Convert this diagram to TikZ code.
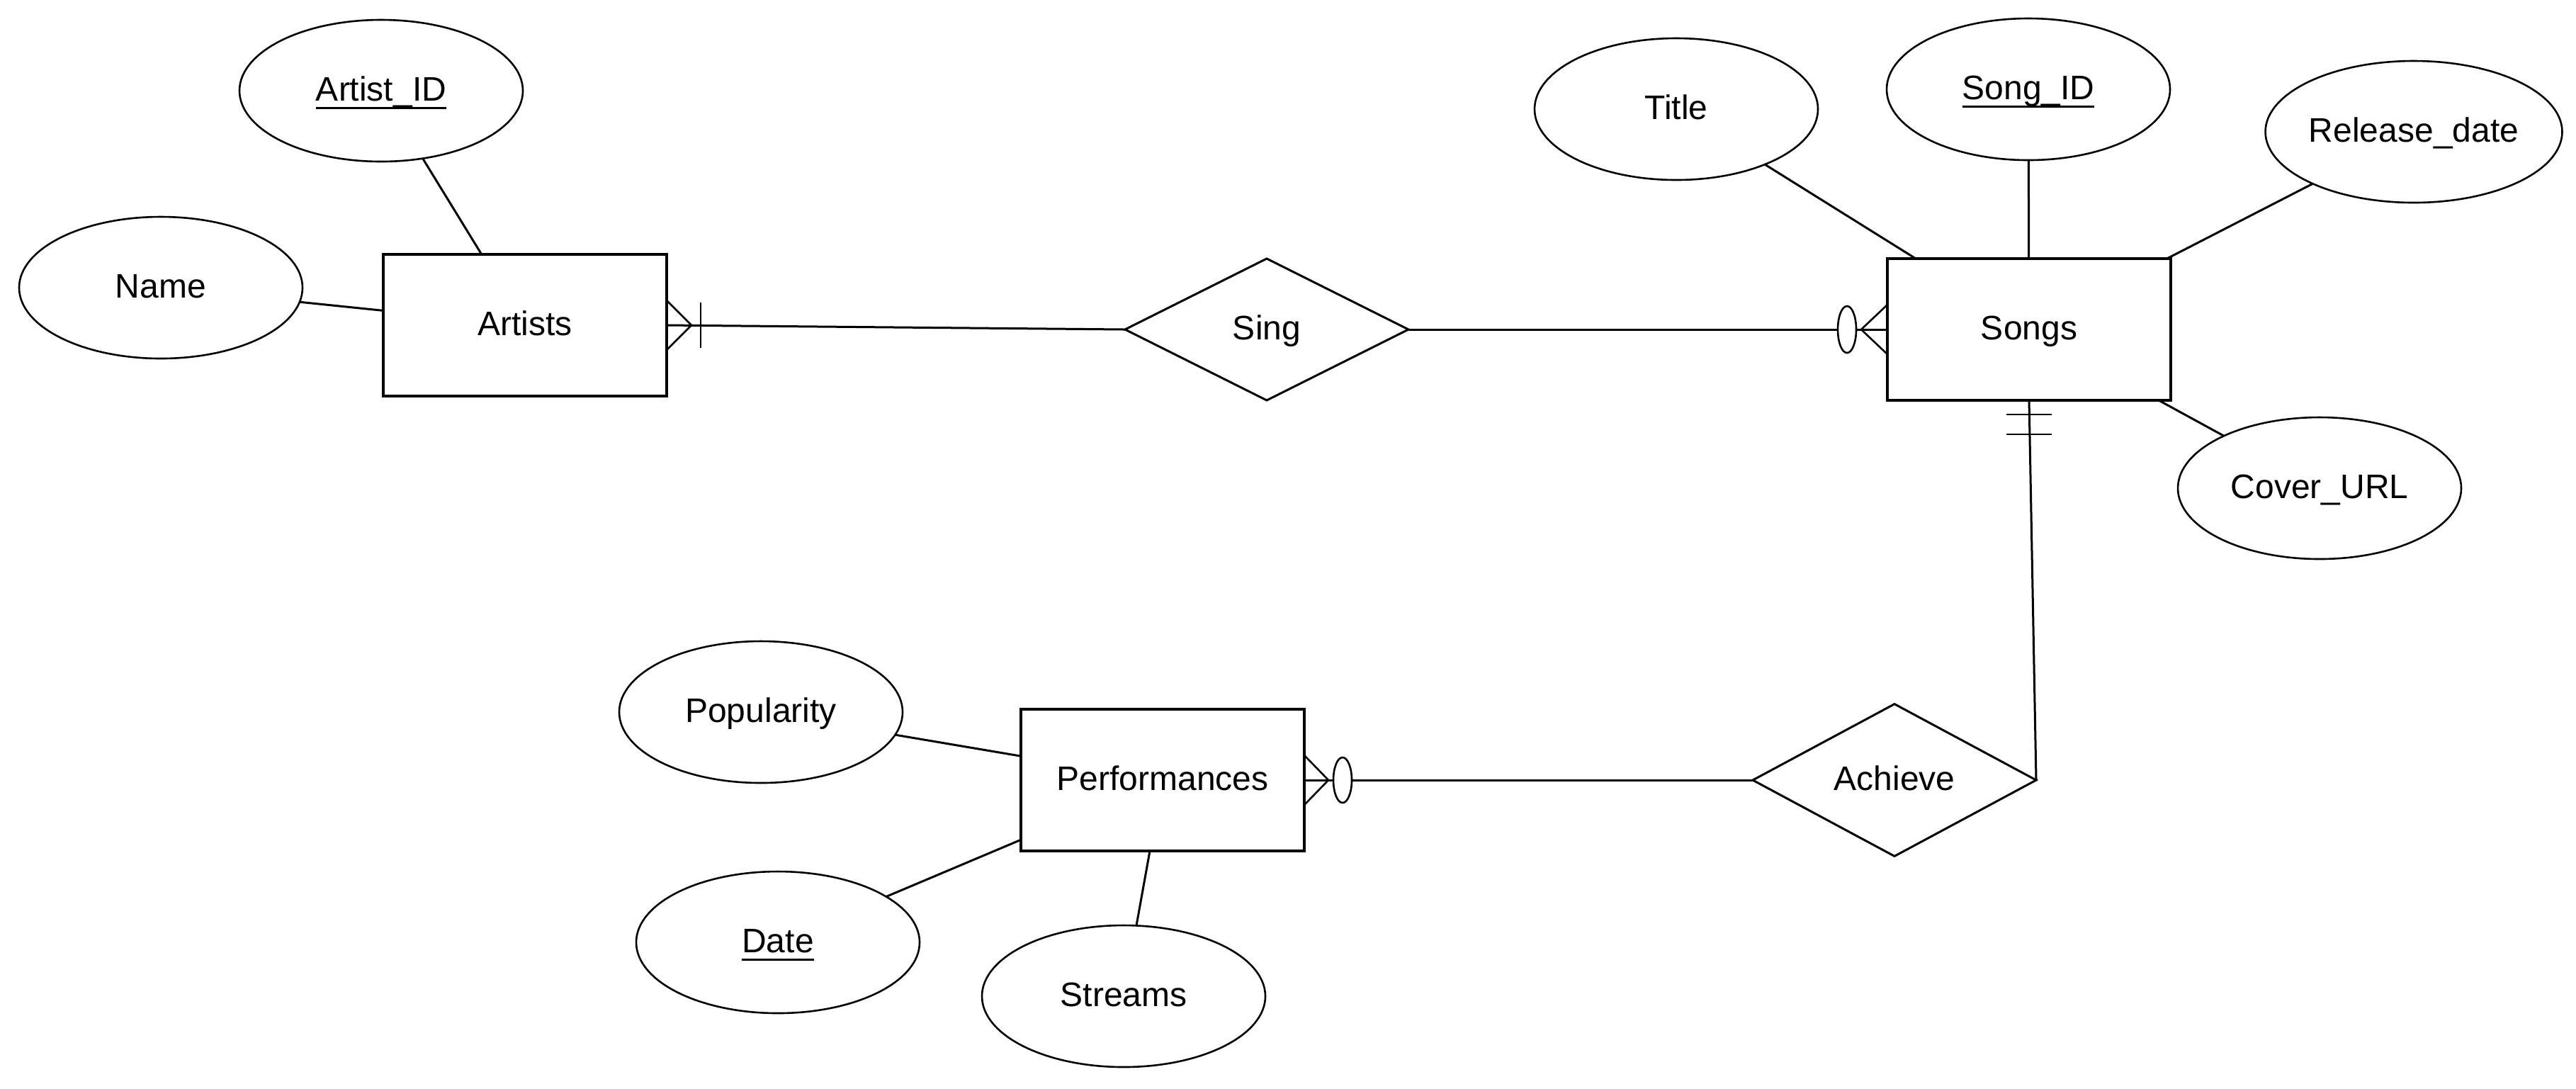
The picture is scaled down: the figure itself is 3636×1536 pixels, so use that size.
\documentclass[tikz,border=0pt]{standalone}
\usepackage{fontspec}
\setmainfont{Liberation Sans}
\usetikzlibrary{shapes.geometric,calc}
\newsavebox\ulbox
\newcommand\ulx[1]{\sbox\ulbox{#1}\rlap{\rule[-0.25em]{\wd\ulbox}{0.065em}}\usebox\ulbox}
\begin{document}
\begin{tikzpicture}[x=0.25pt,y=-0.25pt,
  every node/.style={font=\fontsize{12pt}{14pt}\selectfont, text height=9pt, text depth=2pt, inner sep=0pt, outer sep=0pt},
  entity/.style={draw, rectangle, line width=0.95pt, minimum width=100pt, minimum height=50pt},
  attr/.style={draw, ellipse, line width=0.65pt, minimum width=100pt, minimum height=50pt},
  rel/.style={draw, diamond, line width=0.75pt, minimum width=100pt, minimum height=50pt},
  link/.style={line width=0.75pt},
  crowline/.style={line width=0.65pt}]
\path[use as bounding box, fill=white] (0,0) rectangle (3636,1536);
% nodes
\node[attr] (aid) at (538,128) {\ulx{Artist\_ID}};
\node[attr] (name) at (227,406) {Name};
\node[entity] (artists) at (741,459) {Artists};
\node[rel] (sing) at (1788,465) {Sing};
\node[entity] (songs) at (2864,465) {Songs};
\node[attr] (title) at (2366,154) {Title};
\node[attr] (sid) at (2863,126) {\ulx{Song\_ID}};
\node[attr] (rdate) at (3407,186) {Release\_date};
\node[attr] (cover) at (3274,689) {Cover\_URL};
\node[entity] (perf) at (1641,1101) {Performances};
\node[rel] (ach) at (2674,1101) {Achieve};
\node[attr] (pop) at (1074,1005) {Popularity};
\node[attr] (date) at (1098,1330) {\ulx{Date}};
\node[attr] (streams) at (1586,1406) {Streams};
% attribute links
\draw[link] (aid) -- (artists);
\draw[link] (name) -- (artists);
\draw[link] (title) -- (songs);
\draw[link] (sid) -- (songs);
\draw[link] (rdate) -- (songs);
\draw[link] (cover) -- (songs);
\draw[link] (pop) -- (perf);
\draw[link] (date) -- (perf);
\draw[link] (streams) -- (perf);
% relationship links
\draw[link] (artists.east) -- (sing.west);
\draw[link] (sing.east) -- (songs.west);
\draw[link] (songs.south) -- (ach.east);
\draw[link] (ach.west) -- (perf.east);
% Artists end: one or many
\draw[crowline] ($(artists.east)+(0,-35)$) -- ($(artists.east)+(35,0)$) -- ($(artists.east)+(0,35)$);
\draw[crowline] ($(artists.east)+(48,-32)$) -- ($(artists.east)+(48,32)$);
% Songs end: zero or many
\draw[crowline] ($(songs.west)+(0,-35)$) -- ($(songs.west)+(-37,0)$) -- ($(songs.west)+(0,35)$);
\draw[crowline, fill=white] ($(songs.west)+(-57,0)$) ellipse [x radius=3.25pt, y radius=8.25pt];
% Performances end: zero or many
\draw[crowline] ($(perf.east)+(0,-35)$) -- ($(perf.east)+(34,0)$) -- ($(perf.east)+(0,35)$);
\draw[crowline, fill=white] ($(perf.east)+(54,0)$) ellipse [x radius=3.25pt, y radius=8pt];
% Songs bottom: one and only one
\draw[crowline] ($(songs.south)+(-32,20)$) -- ($(songs.south)+(32,20)$);
\draw[crowline] ($(songs.south)+(-32,48)$) -- ($(songs.south)+(32,48)$);
\end{tikzpicture}
\end{document}
